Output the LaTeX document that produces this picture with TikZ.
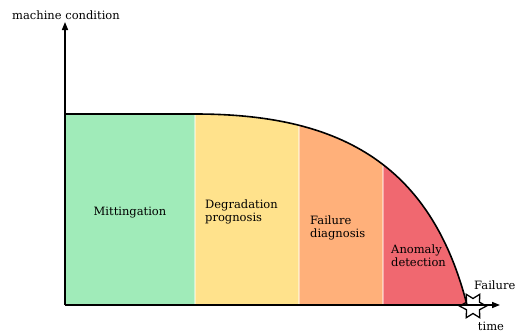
\documentclass[tikz,border=0pt]{standalone}
\usepackage{fontspec}
\setmainfont{DejaVu Serif}
\usetikzlibrary{
  arrows.meta,
  positioning,
  shapes.geometric
}
\definecolor{zverde}{RGB}{160,235,185}
\definecolor{zamarelo}{RGB}{255,226,140}
\definecolor{zlaranja}{RGB}{255,176,122}
\definecolor{zvermelho}{RGB}{240,104,112}

\begin{document}
\begin{tikzpicture}[
      x=1pt, y=-1pt,
      eixo/.style={-{Triangle[length=8pt,width=6pt]}, line width=1.5pt},
      curva/.style={line width=1.6pt},
      divisa/.style={white, opacity=0.45, line width=1.5pt},
      rotulo/.style={font=\fontsize{11.5}{12.5}\selectfont, align=left, inner sep=0pt}
  ]
      \useasboundingbox (0,0) rectangle (515,332);

      % Pontos base
      \coordinate (origem) at (65,305);
      \coordinate (topoy) at (65,22);
      \coordinate (fimx) at (500,305);
      \coordinate (inicio) at (65,114);
      \coordinate (joelho) at (195,114);
      \coordinate (falha) at (467,305);

      % Zonas coloridas
      \begin{scope}
          \clip (origem) -- (inicio) -- (joelho) .. controls (335,114) and (430,160) .. (falha) -- cycle;
          \fill[zverde] (65,100) rectangle (195,305);
          \fill[zamarelo] (195,100) rectangle (299,305);
          \fill[zlaranja] (299,100) rectangle (383,305);
          \fill[zvermelho] (383,100) rectangle (470,305);
          \draw[divisa] (195,100) -- (195,305);
          \draw[divisa] (299,100) -- (299,305);
          \draw[divisa] (383,100) -- (383,305);
      \end{scope}

      % Curva e eixos
      \draw[curva] (inicio) -- (joelho) .. controls (335,114) and (430,160) .. (falha);
      \draw[eixo] (origem) -- (topoy);
      \draw[eixo] (origem) -- (fimx);

      \node[star, star points=6, star point ratio=1.8, shape border rotate=90, draw, line width=1.3pt, minimum size=27pt, inner sep=0pt] (estrela) at (473,306) {};

      % Textos
      \node[rotulo] (cond) at (66,15) {machine condition};
      \node[rotulo] (mit) at (130,213) {Mittingation};
      \node[rotulo, anchor=north west] (deg) at (205,200) {Degradation\\prognosis};
      \node[rotulo, anchor=north west] (diag) at (310,216) {Failure\\diagnosis};
      \node[rotulo, anchor=north west] (anom) at (391,245) {Anomaly\\detection};
      \node[rotulo, anchor=west] (txtfalha) at (474,285) {Failure};
      \node[rotulo] (tempo) at (491,326) {time};

  \end{tikzpicture}
\end{document}
